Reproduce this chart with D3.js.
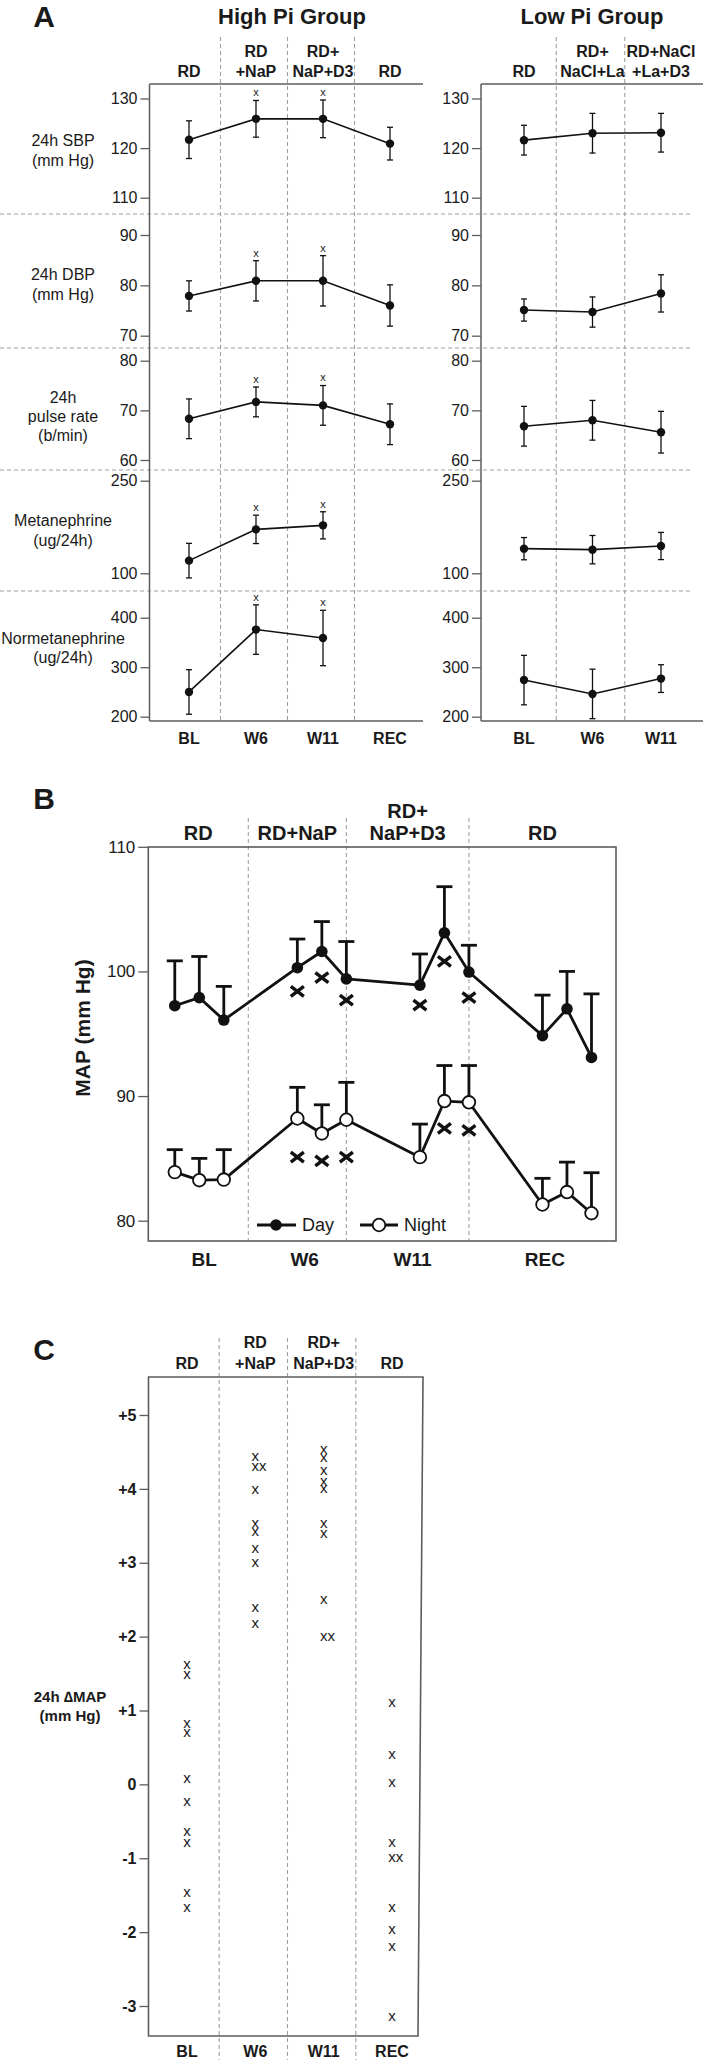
<!DOCTYPE html>
<html><head><meta charset="utf-8">
<script src="https://cdn.jsdelivr.net/npm/d3@7"></script>
<style>
body{margin:0;background:#fff}
svg{display:block}
text{font-family:"Liberation Sans",Arial,Helvetica,sans-serif;fill:#1a1a1a}
</style>
</head><body>
<svg id="c" width="705" height="2060"></svg>
<script>
// ================= DATA =================
// Panel A
const periodsHigh = ["BL","W6","W11","REC"];
const periodsLow  = ["BL","W6","W11"];
const headHigh = [["RD"],["RD","+NaP"],["RD+","NaP+D3"],["RD"]];
const headLow  = [["RD"],["RD+","NaCl+La"],["RD+NaCl","+La+D3"]];
const rowLabels = [["24h SBP","(mm Hg)"],["24h DBP","(mm Hg)"],["24h","pulse rate","(b/min)"],["Metanephrine","(ug/24h)"],["Normetanephrine","(ug/24h)"]];
const rowTicks  = [[110,120,130],[70,80,90],[60,70,80],[100,250],[200,300,400]];
const sbpHigh = [121.7,125.9,125.9,120.9],  sbpHighErr = [3.8,3.7,3.8,3.3];
const sbpLow  = [121.6,123.0,123.1],        sbpLowErr  = [3.0,4.0,3.9];
const dbpHigh = [77.9,80.9,80.9,76.0],      dbpHighErr = [3.0,4.0,5.0,4.1];
const dbpLow  = [75.1,74.7,78.4],           dbpLowErr  = [2.2,3.0,3.7];
const hrHigh  = [68.3,71.7,71.0,67.2],      hrHighErr  = [4.0,3.0,4.0,4.1];
const hrLow   = [66.8,68.0,65.6],           hrLowErr   = [4.0,4.0,4.2];
const metHigh = [120.5,171.2,177.7,null],   metHighErr = [28,23,22,null];
const metLow  = [139.9,138.3,144.2],        metLowErr  = [18,23,22];
const nmetHigh= [250,376,359,null],         nmetHighErr= [45,50,56,null];
const nmetLow = [274,246,277],              nmetLowErr = [50,50,28];
const sigHigh = [false,true,true,false];

// Panel B
const bPeriods = ["BL","W6","W11","REC"];
const bHeads = [["RD"],["RD+NaP"],["RD+","NaP+D3"],["RD"]];
const bSlots = [0,1,2,5,6,7,10,11,12,15,16,17];
const bBounds = [3,7,12];
const bLabelPos = [1.2,5.3,9.7,15.1];
const bTicks = [80,90,100,110];
const dayMean  = [97.25,97.9,96.1,100.3,101.6,99.4,98.9,103.1,99.95,94.85,97.0,93.1];
const dayErr   = [3.6,3.3,2.7,2.3,2.4,3.0,2.5,3.7,2.15,3.25,3.0,5.1];
const nightMean= [83.9,83.25,83.3,88.2,87.0,88.1,85.1,89.6,89.5,81.3,82.3,80.6];
const nightErr = [1.8,1.75,2.4,2.5,2.3,3.0,2.65,2.85,2.95,2.1,2.4,3.25];
const daySig   = [null,null,null,98.4,99.5,97.7,97.3,100.8,97.9,null,null,null];
const nightSig = [null,null,null,85.1,84.8,85.1,null,87.4,87.25,null,null,null];

// Panel C
const cCols = ["BL","W6","W11","REC"];
const cTicks = [-3,-2,-1,0,1,2,3,4,5];
const cBL  = [1.61,1.48,0.81,0.70,0.07,-0.24,-0.65,-0.79,-1.47,-1.67];
const cW6  = [4.43,4.30,4.30,3.99,3.52,3.41,3.19,2.99,2.39,2.17];
const cW11 = [4.53,4.42,4.24,4.09,4.00,3.52,3.39,2.50,1.99,1.99];
const cREC = [1.10,0.40,0.02,-0.80,-1.00,-1.00,-1.67,-1.97,-2.20,-3.15];

// ================= DRAW =================
const svg = d3.select("#c");
const AX = "#5c5c5c", DASH = "#a0a0a0";

function label(x, y, s, size, weight, anchor){
  return svg.append("text").attr("x",x).attr("y",y).attr("dy","0.35em")
    .attr("text-anchor",anchor||"middle").style("font-size",size+"px")
    .style("font-weight",weight||"normal").text(s);
}
function line(x1,y1,x2,y2,stroke,w,dash){
  const l = svg.append("line").attr("x1",x1).attr("y1",y1).attr("x2",x2).attr("y2",y2)
    .attr("stroke",stroke).attr("stroke-width",w);
  if(dash) l.attr("stroke-dasharray",dash);
  return l;
}
function styleAxis(g, size, weight){
  g.select(".domain").remove();
  g.selectAll(".tick line").attr("stroke",AX).attr("stroke-width",1.3);
  g.selectAll(".tick text").style("font-size",size+"px").style("font-weight",weight||"normal").attr("fill","#1a1a1a");
}
function mids(xs, dom){ const r=[]; for(let i=1;i<dom.length;i++) r.push((xs(dom[i-1])+xs(dom[i]))/2 - 2); return r; }

// ---------- Panel A ----------
label(44,16,"A",30,"bold");
label(292,16,"High Pi Group",22,"bold");
label(592,16,"Low Pi Group",22,"bold");

const aTop = 84, aBottom = 721;
const rowPix = [[197.7,98.5],[335.7,235],[460,360.7],[573.3,480.7],[716.7,617.7]];
const rowSeps = [214,348,470,591];
const rowLabelY = [[140,160],[274,294],[397,416,435],[520,540],[638,657]];
const highSets = [[sbpHigh,sbpHighErr],[dbpHigh,dbpHighErr],[hrHigh,hrHighErr],[metHigh,metHighErr],[nmetHigh,nmetHighErr]];
const lowSets  = [[sbpLow,sbpLowErr],[dbpLow,dbpLowErr],[hrLow,hrLowErr],[metLow,metLowErr],[nmetLow,nmetLowErr]];

const panelsA = [
  {dom:periodsHigh, heads:headHigh, xs:d3.scalePoint().domain(periodsHigh).range([189,390]), x0:149.5, x1:423, sets:highSets, sig:sigHigh},
  {dom:periodsLow,  heads:headLow,  xs:d3.scalePoint().domain(periodsLow).range([524,661]),  x0:481,   x1:703, sets:lowSets, sig:null}
];

rowSeps.forEach(y => line(0,y,690,y,DASH,1.2,"4,3"));

panelsA.forEach(P => {
  mids(P.xs,P.dom).forEach(x => line(x,37,x,aBottom,DASH,1.1,"4,3"));
  line(P.x0,aTop,P.x1,aTop,AX,1.5);
  line(P.x0,aBottom,P.x1,aBottom,AX,1.5);
  line(P.x0,aTop,P.x0,aBottom,AX,1.5);
  P.heads.forEach((h,i) => {
    const x = P.xs(P.dom[i]);
    h.forEach((s,j) => label(x, 71 - (h.length-1-j)*20, s, 16, "bold"));
  });
  P.dom.forEach(d => label(P.xs(d), 738, d, 16, "bold"));
  rowTicks.forEach((tk,r) => {
    const ys = d3.scaleLinear().domain([tk[0],tk[tk.length-1]]).range(rowPix[r]);
    const g = svg.append("g").attr("transform",`translate(${P.x0},0)`)
      .call(d3.axisLeft(ys).tickValues(tk).tickSize(9).tickPadding(3));
    styleAxis(g,16);
    const [mean, err] = P.sets[r];
    const pts = P.dom.map((d,i)=>({x:P.xs(d), m:mean[i], e:err[i], i})).filter(p=>p.m!=null);
    svg.append("path").datum(pts)
      .attr("d", d3.line().x(p=>p.x).y(p=>ys(p.m)))
      .attr("fill","none").attr("stroke","#111").attr("stroke-width",1.6);
    pts.forEach(p => {
      line(p.x, ys(p.m-p.e), p.x, ys(p.m+p.e), "#111", 1.3);
      line(p.x-3, ys(p.m-p.e), p.x+3, ys(p.m-p.e), "#111", 1.3);
      line(p.x-3, ys(p.m+p.e), p.x+3, ys(p.m+p.e), "#111", 1.3);
      svg.append("circle").attr("cx",p.x).attr("cy",ys(p.m)).attr("r",4.2).attr("fill","#111");
      if (P.sig && P.sig[p.i]) {
        svg.append("text").attr("x",p.x).attr("y",ys(p.m+p.e)-7).attr("dy","0.26em")
          .attr("text-anchor","middle").style("font-size","11px").text("x");
      }
    });
  });
});
rowLabels.forEach((ls,r) => ls.forEach((s,j) => label(63, rowLabelY[r][j], s, 16)));

// ---------- Panel B ----------
label(44,798,"B",30,"bold");
const bx = d3.scaleLinear().domain([-1.08,18.0]).range([148.3,616]);
const by = d3.scaleLinear().domain([80,110]).range([1220.7,846.8]);
const bTop = 847, bBot = 1241;
bBounds.forEach(v => line(bx(v),818,bx(v),bBot,DASH,1.1,"4,3"));
svg.append("rect").attr("x",bx.range()[0]).attr("y",bTop).attr("width",bx.range()[1]-bx.range()[0])
  .attr("height",bBot-bTop).attr("fill","none").attr("stroke",AX).attr("stroke-width",1.6);
const bEdges = [bx.domain()[0], ...bBounds, bx.domain()[1]];
bHeads.forEach((h,i) => {
  const x = bx((bEdges[i]+bEdges[i+1])/2);
  h.forEach((s,j) => label(x, 833 - (h.length-1-j)*22, s, 20, "bold"));
});
const gB = svg.append("g").attr("transform",`translate(${bx.range()[0]},0)`)
  .call(d3.axisLeft(by).tickValues(bTicks).tickSize(10).tickPadding(3));
styleAxis(gB,17);
svg.append("text").attr("transform","translate(83,1028) rotate(-90)").attr("dy","0.35em")
  .attr("text-anchor","middle").style("font-size","21px").style("font-weight","bold").text("MAP (mm Hg)");
bPeriods.forEach((p,i) => label(bx(bLabelPos[i]), 1259, p, 19, "bold"));

function drawSeries(mean, err, sig, open){
  const pts = bSlots.map((s,i)=>({x:bx(s), m:mean[i], e:err[i], s:sig[i]}));
  svg.append("path").datum(pts).attr("d", d3.line().x(p=>p.x).y(p=>by(p.m)))
    .attr("fill","none").attr("stroke","#111").attr("stroke-width",2.8).attr("stroke-linejoin","round");
  pts.forEach(p => {
    line(p.x, by(p.m), p.x, by(p.m+p.e), "#111", 2.8);
    line(p.x-8, by(p.m+p.e), p.x+8, by(p.m+p.e), "#111", 2.8);
  });
  pts.forEach(p => {
    svg.append("circle").attr("cx",p.x).attr("cy",by(p.m)).attr("r",open?6.3:5.8)
      .attr("fill",open?"#fff":"#111").attr("stroke","#111").attr("stroke-width",open?1.8:0);
    if (p.s!=null) {
      const y = by(p.s);
      svg.append("path").attr("d",`M${p.x-6.5},${y-5}L${p.x+6.5},${y+5}M${p.x-6.5},${y+5}L${p.x+6.5},${y-5}`)
        .attr("stroke","#111").attr("stroke-width",3.4);
    }
  });
}
drawSeries(dayMean, dayErr, daySig, false);
drawSeries(nightMean, nightErr, nightSig, true);
line(257,1225,296,1225,"#111",2.8);
svg.append("circle").attr("cx",276).attr("cy",1225).attr("r",5.8).attr("fill","#111");
label(302,1225,"Day",18,"normal","start");
line(360,1225,398,1225,"#111",2.8);
svg.append("circle").attr("cx",379).attr("cy",1225).attr("r",6.3).attr("fill","#fff").attr("stroke","#111").attr("stroke-width",1.8);
label(404,1225,"Night",18,"normal","start");

// ---------- Panel C ----------
label(44,1349,"C",30,"bold");
const cx = d3.scalePoint().domain(cCols).range([187,392]);
const cy = d3.scaleLinear().domain([-3,5]).range([2006,1415]);
const cTop = 1377, cBot = 2036, cL = 148.5;
mids(cx,cCols).forEach(x => line(x,1338,x,2060,DASH,1.1,"4,3"));
svg.append("path").attr("d",`M${cL},${cTop}L423,${cTop}L418,${cBot}L${cL},${cBot}Z`)
  .attr("fill","none").attr("stroke",AX).attr("stroke-width",1.6);
headHigh.forEach((h,i) => {
  const x = cx(cCols[i]);
  h.forEach((s,j) => label(x, 1363 - (h.length-1-j)*21, s, 16, "bold"));
});
const gC = svg.append("g").attr("transform",`translate(${cL},0)`)
  .call(d3.axisLeft(cy).tickValues(cTicks).tickSize(9).tickPadding(3).tickFormat(d => d>0 ? "+"+d : String(d)));
styleAxis(gC,16,"bold");
label(70,1697,"24h \u2206MAP",15,"bold");
label(70,1716,"(mm Hg)",15,"bold");
cCols.forEach(c => label(cx(c), 2051, c, 16, "bold"));
[cBL,cW6,cW11,cREC].forEach((vals,i) => {
  const seen = {};
  vals.forEach(v => {
    const k = v.toFixed(2); const n = seen[k]||0; seen[k]=n+1;
    svg.append("text").attr("x",cx(cCols[i]) + n*7.5).attr("y",cy(v)).attr("dy","0.26em")
      .attr("text-anchor","middle").style("font-size","15px").text("x");
  });
});
</script>
</body></html>
